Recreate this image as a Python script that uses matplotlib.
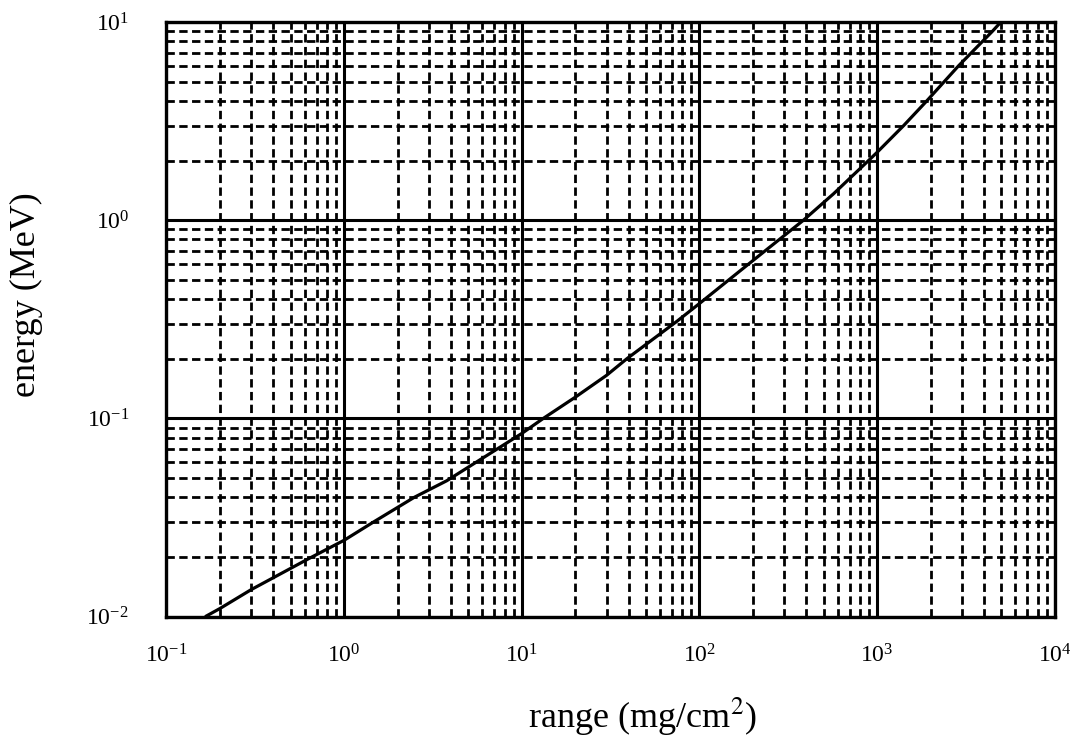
import matplotlib
matplotlib.use("Agg")
import matplotlib.pyplot as plt
from matplotlib.ticker import LogLocator, NullFormatter, LogFormatterSciNotation

plt.rcParams['font.family'] = ['Liberation Serif', 'DejaVu Serif']
plt.rcParams['mathtext.fontset'] = 'stix'

# range (mg/cm^2) vs energy (MeV)
range_mg_cm2 = [0.165, 0.2, 0.3, 0.63, 1.0, 1.46, 2.48, 3.78, 10.0, 13.2, 20.0, 30.0,
                39.0, 75.0, 100.0, 170.0, 220.0, 385.0, 569.0, 895.0, 1000.0,
                1410.0, 1905.0, 2870.0, 4470.0, 5130.0]
energy_mev = [0.010, 0.0110, 0.0137, 0.0196, 0.0243, 0.030, 0.040, 0.0485, 0.084,
              0.100, 0.128, 0.165, 0.20, 0.31, 0.38, 0.557, 0.67, 1.0, 1.36, 2.0,
              2.2, 3.0, 4.0, 6.0, 9.0, 10.3]

xlim = (0.1, 1e4)
ylim = (0.01, 10)

fig = plt.figure(figsize=(10.81, 7.53), dpi=100)
ax = fig.add_axes([0.154, 0.181, 0.8217, 0.7898])
ax.set_xscale('log')
ax.set_yscale('log')
ax.set_xlim(*xlim)
ax.set_ylim(*ylim)

ax.plot(range_mg_cm2, energy_mev, color='black', lw=2.3, zorder=5,
        solid_capstyle='butt', solid_joinstyle='round')

for axis in (ax.xaxis, ax.yaxis):
    axis.set_major_locator(LogLocator(base=10, numticks=20))
    axis.set_minor_locator(LogLocator(base=10, subs=range(2, 10), numticks=100))
    axis.set_minor_formatter(NullFormatter())
    axis.set_major_formatter(LogFormatterSciNotation())

ax.grid(which='major', color='black', linestyle='-', lw=2.2)
ax.grid(which='minor', color='black', linestyle=(0, (3, 1.6)), lw=2.0)
ax.set_axisbelow(True)

for sp in ax.spines.values():
    sp.set_linewidth(2.4)
    sp.set_zorder(6)

ax.tick_params(which='both', length=0)
ax.tick_params(axis='x', which='major', pad=20, labelsize=17)
ax.tick_params(axis='y', which='major', pad=27, labelsize=17)

ax.set_xlabel('range (mg/cm$^2$)', fontsize=26)
ax.set_ylabel('energy (MeV)', fontsize=26)
ax.xaxis.set_label_coords(0.536, -0.132)
ax.yaxis.set_label_coords(-0.139, 0.541)

fig.savefig('out.png', dpi=100)
